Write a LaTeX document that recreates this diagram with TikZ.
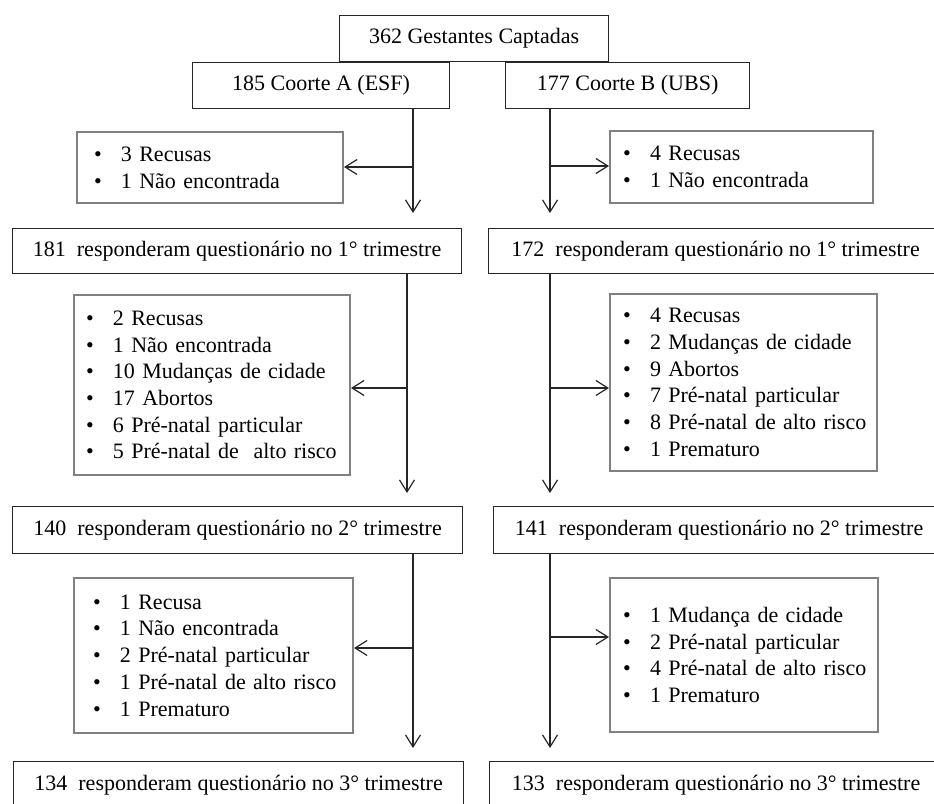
\documentclass[tikz,border=0pt]{standalone}
\usepackage{fontspec}
\setmainfont{Liberation Serif}
\usetikzlibrary{
  arrows.meta,
  calc,
  positioning,
}
\newcommand{\itm}[1]{\mbox{\makebox[27pt][l]{\textbullet}#1}}

\begin{document}
\begin{tikzpicture}[x=1pt,y=-1pt,
  font=\fontsize{22}{26.7}\selectfont,
  >={Straight Barb[length=12pt,width=15pt]},
  box/.style={draw=black!85,line width=1.2pt,inner sep=0pt,anchor=north west},
  lst/.style={draw=black!50,line width=2pt,inner ysep=0pt,anchor=north west,align=left},
  con/.style={draw=black!85,line width=1.2pt}]
  \useasboundingbox (0,0) rectangle (934,803);
  \clip (0,0) rectangle (934,803);
  \fill[white] (0,0) rectangle (934,803);
  %%
  \node[box,minimum width=269pt,minimum height=46pt](top) at (339,15){362 Gestantes Captadas};
  \node[box,minimum width=257pt,minimum height=46pt](coA) at (192,62){185 Coorte A (ESF)};
  \node[box,minimum width=244pt,minimum height=46pt](coB) at (505,62){177 Coorte B (UBS)};
  %%
  \node[box,minimum width=449pt,minimum height=45pt](triA1) at (12,228)
      {181\ \ responderam questionário no 1° trimestre};
  \node[box,minimum width=454pt,minimum height=45pt](triB1) at (488,228)
      {172\ \ responderam questionário no 1° trimestre};
  \node[box,minimum width=450pt,minimum height=47pt](triA2) at (12,506)
      {140\ \ responderam questionário no 2° trimestre};
  \node[box,minimum width=451pt,minimum height=47pt](triB2) at (493,506)
      {141\ \ responderam questionário no 2° trimestre};
  \node[box,minimum width=450pt,minimum height=47pt](triA3) at (13,761)
      {134\ \ responderam questionário no 3° trimestre};
  \node[box,minimum width=453pt,minimum height=47pt](triB3) at (489,761)
      {133\ \ responderam questionário no 3° trimestre};
  %%
  \node[lst,text width=232pt,inner xsep=17pt,minimum height=71pt](excA1) at (76,131)
      {\itm{3 Recusas}\\\itm{1 Não encontrada}};
  \node[lst,text width=237pt,inner xsep=13pt,minimum height=72pt](excB1) at (609,130)
      {\itm{4 Recusas}\\\itm{1 Não encontrada}};
  \node[lst,text width=252pt,inner xsep=12pt,minimum height=180pt](excA2) at (73,294)
      {\itm{2 Recusas}\\\itm{1 Não encontrada}\\\itm{10 Mudanças de cidade}\\
       \itm{17 Abortos}\\\itm{6 Pré-natal particular}\\\itm{5 Pré-natal de\ \ alto risco}};
  \node[lst,text width=241pt,inner xsep=13pt,minimum height=177pt](excB2) at (609,293)
      {\itm{4 Recusas}\\\itm{2 Mudanças de cidade}\\\itm{9 Abortos}\\
       \itm{7 Pré-natal particular}\\\itm{8 Pré-natal de alto risco}\\\itm{1 Prematuro}};
  \node[lst,text width=241pt,inner xsep=19pt,minimum height=155pt](excA3) at (73,577)
      {\itm{1 Recusa}\\\itm{1 Não encontrada}\\\itm{2 Pré-natal particular}\\
       \itm{1 Pré-natal de alto risco}\\\itm{1 Prematuro}};
  \node[lst,text width=242pt,inner xsep=13pt,minimum height=154pt](excB3) at (609,577)
      {\itm{1 Mudança de cidade}\\\itm{2 Pré-natal particular}\\
       \itm{4 Pré-natal de alto risco}\\\itm{1 Prematuro}};
  %%
  \coordinate(sA1) at (413,167);
  \coordinate(sB1) at (550,166);
  \coordinate(sA2) at (407,388);
  \coordinate(sB2) at (550,388);
  \coordinate(sA3) at (413,648);
  \coordinate(sB3) at (550,637);
  %%
  \draw[con,->,shorten >=15pt] (coA.south -| sA1) -- (triA1.north -| sA1);
  \draw[con,->,shorten >=15pt] (coB.south -| sB1) -- (triB1.north -| sB1);
  \draw[con,->,shorten >=13pt] (triA1.south -| sA2) -- (triA2.north -| sA2);
  \draw[con,->,shorten >=13pt] (triB1.south -| sB2) -- (triB2.north -| sB2);
  \draw[con,->,shorten >=13pt] (triA2.south -| sA3) -- (triA3.north -| sA3);
  \draw[con,->,shorten >=13pt] (triB2.south -| sB3) -- (triB3.north -| sB3);
  %%
  \draw[con,->] (sA1) -- (excA1.east |- sA1);
  \draw[con,->] (sB1) -- (excB1.west |- sB1);
  \draw[con,->] (sA2) -- (excA2.east |- sA2);
  \draw[con,->] (sB2) -- (excB2.west |- sB2);
  \draw[con,->] (sA3) -- (excA3.east |- sA3);
  \draw[con,->] (sB3) -- (excB3.west |- sB3);
\end{tikzpicture}
\end{document}
